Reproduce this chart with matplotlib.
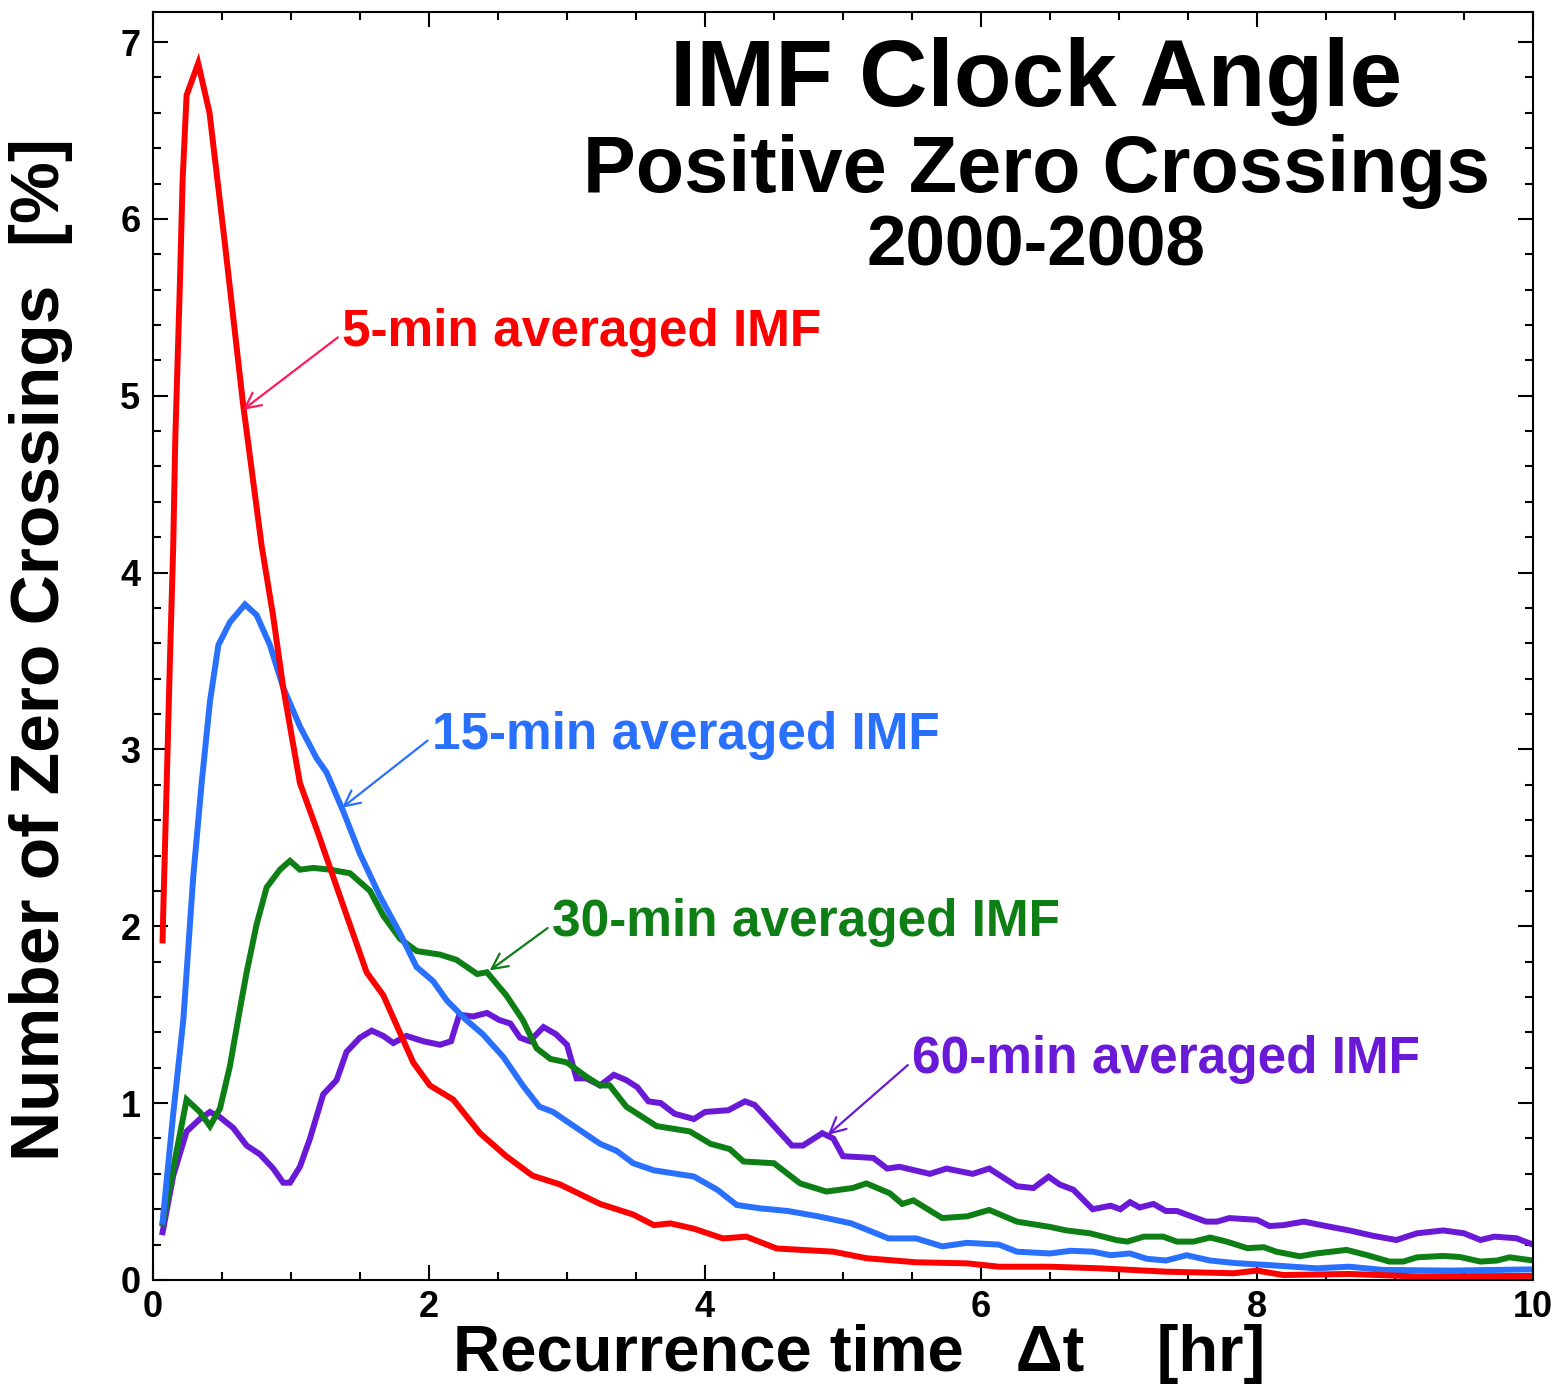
import matplotlib
matplotlib.use("Agg")
import matplotlib.pyplot as plt
from matplotlib.ticker import MultipleLocator

x5 = [0.07, 0.075, 0.099, 0.123, 0.147, 0.162, 0.196, 0.215, 0.244, 0.328, 0.41, 0.52,
      0.652, 0.788, 0.87, 0.944, 1.065, 1.186, 1.355, 1.548, 1.669, 1.886, 2.007, 2.176,
      2.37, 2.56, 2.75, 2.95, 3.24, 3.48, 3.63, 3.75, 3.92, 4.13, 4.3, 4.52, 4.93, 5.17,
      5.53, 5.9, 6.13, 6.5, 6.86, 7.34, 7.83, 8.0, 8.19, 8.67, 9.16, 10.0]
y5 = [1.92, 2.09, 2.79, 3.5, 4.15, 4.76, 5.65, 6.22, 6.70, 6.88, 6.6, 5.87,
      4.96, 4.15, 3.76, 3.35, 2.81, 2.55, 2.17, 1.74, 1.61, 1.23, 1.10, 1.02,
      0.83, 0.70, 0.59, 0.54, 0.43, 0.37, 0.31, 0.32, 0.29, 0.235, 0.245, 0.178, 0.16, 0.123,
      0.10, 0.094, 0.075, 0.075, 0.066, 0.047, 0.038, 0.053, 0.028, 0.034, 0.02, 0.023]

x15 = [0.07, 0.147, 0.22, 0.292, 0.353, 0.413, 0.474, 0.558, 0.667, 0.751, 0.848, 0.944,
       1.065, 1.186, 1.258, 1.379, 1.5, 1.645, 1.79, 1.91, 2.03, 2.13, 2.27, 2.39, 2.54,
       2.68, 2.8, 2.9, 3.05, 3.24, 3.36, 3.48, 3.63, 3.92, 4.09, 4.23, 4.4, 4.6, 4.82, 5.06,
       5.33, 5.53, 5.72, 5.9, 6.13, 6.26, 6.5, 6.65, 6.81, 6.94, 7.08, 7.2, 7.34, 7.49,
       7.66, 7.85, 8.07, 8.43, 8.67, 8.91, 9.4, 10.0]
y15 = [0.33, 0.94, 1.47, 2.28, 2.81, 3.27, 3.59, 3.72, 3.82, 3.76, 3.59, 3.35,
       3.13, 2.95, 2.87, 2.65, 2.41, 2.17, 1.96, 1.77, 1.69, 1.58, 1.47, 1.39, 1.26,
       1.10, 0.98, 0.95, 0.87, 0.77, 0.73, 0.66, 0.62, 0.585, 0.51, 0.424, 0.405, 0.39, 0.36, 0.32,
       0.235, 0.235, 0.19, 0.21, 0.2, 0.16, 0.15, 0.165, 0.16, 0.14, 0.15, 0.12, 0.11, 0.14,
       0.11, 0.095, 0.085, 0.066, 0.075, 0.057, 0.053, 0.06]

x30 = [0.07, 0.244, 0.34, 0.413, 0.486, 0.558, 0.63, 0.679, 0.751, 0.824, 0.92, 0.993,
       1.065, 1.162, 1.283, 1.428, 1.573, 1.669, 1.79, 1.911, 2.08, 2.2, 2.35, 2.42, 2.56,
       2.68, 2.78, 2.88, 3.0, 3.14, 3.24, 3.31, 3.43, 3.65, 3.89, 4.04, 4.18, 4.28, 4.5,
       4.69, 4.88, 5.07, 5.17, 5.34, 5.43, 5.51, 5.72, 5.9, 6.06, 6.26, 6.5, 6.62, 6.79,
       6.98, 7.06, 7.18, 7.32, 7.42, 7.54, 7.66, 7.78, 7.93, 8.05, 8.14, 8.31, 8.43, 8.65,
       8.8, 8.96, 9.06, 9.16, 9.35, 9.47, 9.62, 9.74, 9.83, 10.0]
y30 = [0.32, 1.02, 0.95, 0.87, 0.97, 1.21, 1.53, 1.74, 2.01, 2.22, 2.32, 2.37,
       2.32, 2.33, 2.32, 2.30, 2.20, 2.06, 1.93, 1.86, 1.84, 1.81, 1.73, 1.74, 1.61,
       1.47, 1.31, 1.25, 1.23, 1.15, 1.10, 1.10, 0.98, 0.87, 0.84, 0.77, 0.74, 0.67, 0.66,
       0.546, 0.50, 0.52, 0.546, 0.49, 0.43, 0.45, 0.35, 0.36, 0.396, 0.33, 0.30, 0.28, 0.264,
       0.226, 0.217, 0.245, 0.245, 0.217, 0.217, 0.24, 0.217, 0.18, 0.185, 0.16, 0.134, 0.15, 0.17,
       0.14, 0.104, 0.104, 0.128, 0.136, 0.13, 0.104, 0.11, 0.128, 0.11]

x60 = [0.07, 0.147, 0.244, 0.34, 0.413, 0.486, 0.582, 0.679, 0.776, 0.872, 0.944, 0.993,
       1.065, 1.138, 1.234, 1.331, 1.403, 1.5, 1.585, 1.669, 1.742, 1.838, 1.959, 2.08,
       2.16, 2.22, 2.32, 2.42, 2.51, 2.59, 2.66, 2.73, 2.83, 2.92, 3.0, 3.07, 3.14, 3.24,
       3.34, 3.43, 3.51, 3.59, 3.68, 3.78, 3.92, 4.0, 4.17, 4.29, 4.36, 4.63, 4.71, 4.85,
       4.93, 5.0, 5.22, 5.32, 5.41, 5.63, 5.75, 5.94, 6.06, 6.26, 6.38, 6.49, 6.57, 6.67,
       6.81, 6.94, 7.01, 7.08, 7.15, 7.25, 7.34, 7.42, 7.63, 7.71, 7.8, 8.0, 8.09, 8.19,
       8.34, 8.5, 8.67, 8.84, 9.01, 9.16, 9.35, 9.5, 9.62, 9.72, 9.88, 10.0]
y60 = [0.27, 0.59, 0.84, 0.91, 0.95, 0.92, 0.86, 0.76, 0.71, 0.63, 0.55, 0.55,
       0.64, 0.80, 1.05, 1.13, 1.29, 1.37, 1.41, 1.38, 1.34, 1.38, 1.35, 1.33,
       1.35, 1.50, 1.49, 1.51, 1.47, 1.45, 1.37, 1.35, 1.43, 1.39, 1.33, 1.14, 1.14, 1.10,
       1.16, 1.13, 1.09, 1.01, 1.0, 0.94, 0.91, 0.95, 0.96, 1.01, 0.99, 0.76, 0.76, 0.83,
       0.80, 0.70, 0.69, 0.63, 0.64, 0.60, 0.63, 0.60, 0.63, 0.53, 0.52, 0.584, 0.54, 0.51,
       0.40, 0.42, 0.40, 0.44, 0.41, 0.43, 0.39, 0.39, 0.33, 0.33, 0.35, 0.34, 0.305, 0.31,
       0.33, 0.305, 0.28, 0.25, 0.226, 0.264, 0.28, 0.264, 0.226, 0.245, 0.236, 0.2]

red = "#ff0000"
blue = "#2a70ff"
green = "#0e7f14"
purple = "#6a1ad6"

fig = plt.figure(figsize=(15.59, 13.94), dpi=100)
ax = fig.add_axes([0.0981, 0.0818, 0.8852, 0.9096])

lw = 4.3
ax.plot(x60, y60, color=purple, lw=lw, solid_joinstyle="miter")
ax.plot(x30, y30, color=green, lw=lw, solid_joinstyle="miter")
ax.plot(x15, y15, color=blue, lw=lw, solid_joinstyle="miter")
ax.plot(x5, y5, color=red, lw=lw, solid_joinstyle="miter")

ax.set_xlim(0, 10)
ax.set_ylim(0, 7.17)
ax.xaxis.set_major_locator(MultipleLocator(2))
ax.xaxis.set_minor_locator(MultipleLocator(0.5))
ax.yaxis.set_major_locator(MultipleLocator(1))
ax.yaxis.set_minor_locator(MultipleLocator(0.2))
ax.tick_params(which="both", direction="in", top=True, right=True, width=1.5)
ax.tick_params(which="major", length=11)
ax.tick_params(which="minor", length=6)
for s in ax.spines.values():
    s.set_linewidth(1.5)

font = "Liberation Sans"
for lab in ax.get_xticklabels() + ax.get_yticklabels():
    lab.set_family(font)
    lab.set_fontweight("bold")
    lab.set_fontsize(26)
ax.tick_params(axis="x", pad=7)
ax.tick_params(axis="y", pad=9)

ax.set_xlabel("Recurrence time   \u0394t    [hr]", family=font, fontweight="bold",
              fontsize=47)
ax.xaxis.set_label_coords(0.512, -0.035)
ax.xaxis.label.set_va("top")
ax.set_ylabel("Number of Zero Crossings  [%]", family=font, fontweight="bold",
              fontsize=50)
ax.yaxis.set_label_coords(-0.058, 0.497)

ax.text(0.640, 0.945, "IMF Clock Angle", transform=ax.transAxes, ha="center",
        va="center", fontsize=68, fontweight="bold", family=font)
ax.text(0.640, 0.874, "Positive Zero Crossings", transform=ax.transAxes, ha="center",
        va="center", fontsize=57, fontweight="bold", family=font)
ax.text(0.640, 0.814, "2000-2008", transform=ax.transAxes, ha="center",
        va="center", fontsize=51, fontweight="bold", family=font)

labels = [
    ("5-min averaged IMF", red, "#ff1a5e", (1.34, 5.33), (0.652, 4.92)),
    ("15-min averaged IMF", blue, blue, (1.99, 3.05), (1.37, 2.67)),
    ("30-min averaged IMF", green, green, (2.86, 1.99), (2.44, 1.75)),
    ("60-min averaged IMF", purple, purple, (5.47, 1.215), (4.89, 0.82)),
]
for txt, col, acol, tail, head in labels:
    ax.annotate("", xy=head, xytext=tail,
                arrowprops=dict(arrowstyle="->", color=acol, lw=1.6,
                                mutation_scale=28, shrinkA=0, shrinkB=0))
    ax.text(tail[0] + 0.03, tail[1] + 0.03, txt, color=col, fontsize=37,
            fontweight="bold", family=font, ha="left", va="center")

fig.savefig("out.png", dpi=100)
